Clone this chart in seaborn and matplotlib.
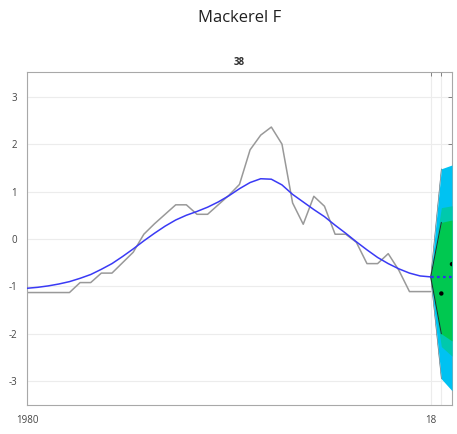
import numpy as np
import pandas as pd
import matplotlib
matplotlib.use("Agg")
import matplotlib.pyplot as plt
import seaborn as sns

years = list(range(1980, 2019))
observed = [-1.13, -1.13, -1.13, -1.13, -1.13, -0.92, -0.92, -0.72, -0.72, -0.50,
            -0.28, 0.10, 0.32, 0.52, 0.72, 0.72, 0.52, 0.52, 0.72, 0.92,
            1.15, 1.88, 2.19, 2.36, 2.00, 0.76, 0.31, 0.90, 0.69, 0.10,
            0.10, -0.07, -0.52, -0.52, -0.31, -0.66, -1.11, -1.11, -1.11]
smoothed = [-1.04, -1.02, -0.99, -0.95, -0.90, -0.83, -0.75, -0.64, -0.52, -0.37,
            -0.21, -0.04, 0.12, 0.27, 0.40, 0.50, 0.58, 0.67, 0.78, 0.91,
            1.06, 1.19, 1.27, 1.26, 1.14, 0.94, 0.78, 0.62, 0.47, 0.29,
            0.12, -0.06, -0.23, -0.39, -0.52, -0.63, -0.72, -0.78, -0.80]

fc_years = [2018, 2019, 2020]
fc_mean = [-0.80, -0.80, -0.80]
outer_lo = [-0.80, -2.95, -3.20]
outer_hi = [-0.80, 1.48, 1.56]
mid_lo = [-0.80, -2.27, -2.47]
mid_hi = [-0.80, 0.66, 0.70]
inner_lo = [-0.80, -2.00, -2.15]
inner_hi = [-0.80, 0.35, 0.40]
pt_years = [2019, 2020]
pt_vals = [-1.15, -0.53]

xtick_pos = [1980, 2018, 2019]
xtick_lab = ["1980", "18", ""]
ytick_pos = [-3, -2, -1, 0, 1, 2, 3]

sns.set_theme(style="white")
plt.rcParams['font.family'] = ['Open Sans', 'DejaVu Sans']

fig = plt.figure(figsize=(4.57, 4.34), dpi=100)
ax = fig.add_axes([0.059, 0.067, 0.930, 0.767])

df_obs = pd.DataFrame({"year": years, "val": observed})
df_sm = pd.DataFrame({"year": years, "val": smoothed})

ax.fill_between(fc_years, outer_lo, outer_hi, color="#00C2F2", linewidth=0, zorder=3)
ax.fill_between(fc_years, mid_lo, mid_hi, color="#00C9AC", linewidth=0, zorder=4)
ax.fill_between(fc_years, inner_lo, inner_hi, color="#00C850", linewidth=0, zorder=5)
# dark edges of the fan on its opening section
ax.plot(fc_years[:2], inner_hi[:2], color="#203020", linewidth=0.7, zorder=5.5)
ax.plot(fc_years[:2], inner_lo[:2], color="#203020", linewidth=0.7, zorder=5.5)
ax.plot(fc_years[:2], outer_hi[:2], color="#3a5a6a", linewidth=0.4, zorder=3.5)
ax.plot(fc_years[:2], outer_lo[:2], color="#3a5a6a", linewidth=0.4, zorder=3.5)

sns.lineplot(data=df_obs, x="year", y="val", ax=ax, color="#999999", linewidth=1.1, zorder=2)
sns.lineplot(data=df_sm, x="year", y="val", ax=ax, color="#3a3af5", linewidth=1.1, zorder=6)
sns.lineplot(x=fc_years, y=fc_mean, ax=ax, color="#3030F0", linewidth=1.6, linestyle=(0, (1.2, 1.5)), zorder=6)
sns.scatterplot(x=pt_years, y=pt_vals, ax=ax, color="black", s=10, zorder=7, edgecolor="none")

ax.set_xlim(1980, 2020)
ax.set_ylim(-3.5, 3.52)
ax.set_xticks(xtick_pos)
ax.set_xticklabels(xtick_lab)
ax.set_yticks(ytick_pos)
ax.set_yticklabels([str(v) for v in ytick_pos])
ax.grid(True, color="#ececec", linewidth=0.8)
ax.set_axisbelow(True)
ax.set_xlabel("")
ax.set_ylabel("")
ax.tick_params(axis="both", direction="in", length=3, width=0.6, colors="#707070",
               labelsize=7, labelcolor="#444444", top=True, right=True, pad=7)
ax.tick_params(axis="x", pad=7)
for s in ax.spines.values():
    s.set_color("#a8a8a8")
    s.set_linewidth(0.8)
ax.set_title("38", fontsize=7, fontweight="bold", color="#303030", pad=5)
fig.text(0.525, 0.958, "Mackerel F", ha="center", va="center", fontsize=12, color="#202020")

fig.savefig("out.png", dpi=100)
